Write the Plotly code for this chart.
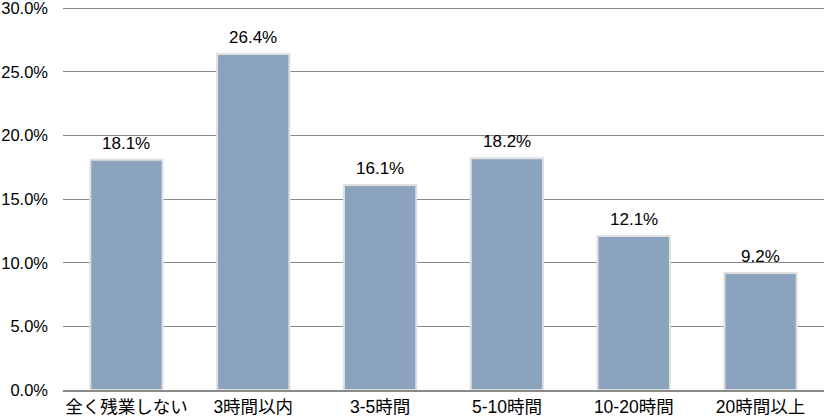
import plotly.graph_objects as go

categories = ["全く残業しない", "3時間以内", "3-5時間", "5-10時間", "10-20時間", "20時間以上"]
values = [18.1, 26.4, 16.1, 18.2, 12.1, 9.2]
tick_vals = [0, 5, 10, 15, 20, 25, 30]
tick_text = ["0.0%", "5.0%", "10.0%", "15.0%", "20.0%", "25.0%", "30.0%"]

FONT = "Liberation Sans, Arial, Noto Sans CJK JP"

fig = go.Figure()
fig.add_trace(go.Bar(
    x=categories, y=values,
    marker=dict(color="#8CA3BD", line=dict(color="#E0E0E0", width=2)),
    width=0.57,
))
for c, v in zip(categories, values):
    fig.add_annotation(x=c, y=v, text=f"{v:.1f}%", showarrow=False,
                       yanchor="bottom", yshift=5,
                       font=dict(family=FONT, size=17, color="#000000"))

fig.update_layout(
    width=824, height=420,
    margin=dict(l=63, r=0, t=5, b=30),
    paper_bgcolor="white", plot_bgcolor="white",
    showlegend=False,
    font=dict(family=FONT, size=16, color="#000000"),
)
fig.update_yaxes(range=[0, 30.25], tickvals=tick_vals, ticktext=tick_text,
                 showgrid=True, gridcolor="#8A8A8A", gridwidth=1.3,
                 zeroline=False, showline=False, ticks="", ticklabelstandoff=14,
                 ticklabeloverflow="allow",
                 tickfont=dict(family=FONT, size=16.5, color="#000000"))
fig.update_xaxes(showline=True, linecolor="#8A8A8A", linewidth=1.6, ticks="",
                 tickfont=dict(family=FONT, size=17.5, color="#000000"))

fig.write_html("out.html", config={"displayModeBar": False},
               post_script="document.body.style.margin='0px';document.body.style.overflow='hidden';")
